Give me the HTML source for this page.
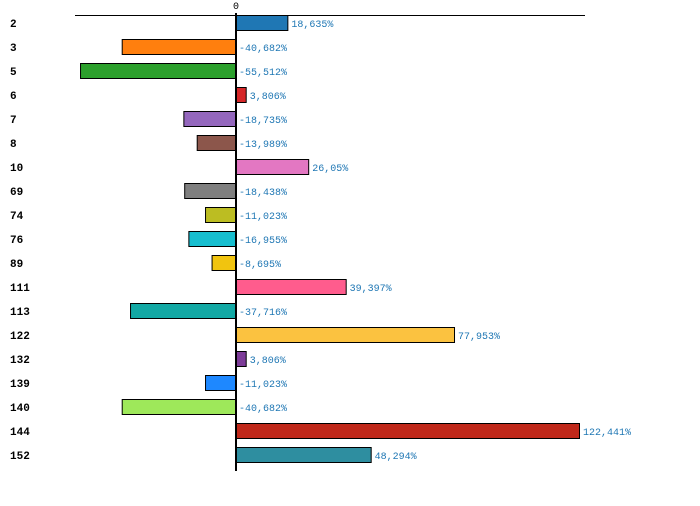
<!DOCTYPE html>
<html><head><meta charset="utf-8"><style>
body{margin:0;background:#fff;}
svg text{font-family:"Liberation Mono","DejaVu Sans Mono",monospace;}
</style></head><body>
<svg id="chart" width="700" height="501" xmlns="http://www.w3.org/2000/svg"></svg>
<script>
const categories=["2","3","5","6","7","8","10","69","74","76","89","111","113","122","132","139","140","144","152"];
const values=[18.635,-40.682,-55.512,3.806,-18.735,-13.989,26.05,-18.438,-11.023,-16.955,-8.695,39.397,-37.716,77.953,3.806,-11.023,-40.682,122.441,48.294];
const labels=["18,635%","-40,682%","-55,512%","3,806%","-18,735%","-13,989%","26,05%","-18,438%","-11,023%","-16,955%","-8,695%","39,397%","-37,716%","77,953%","3,806%","-11,023%","-40,682%","122,441%","48,294%"];
const colors=["#1f77b4","#ff7f0e","#2ca02c","#d62728","#9467bd","#8c564b","#e377c2","#7f7f7f","#bcbd22","#17becf","#f1c40f","#ff5c8d","#12a8a4","#fbc240","#7d3c98","#1e88ff","#9ee85a","#c0281a","#2e8ea0"];
const NS="http://www.w3.org/2000/svg";
const svg=document.getElementById('chart');
const x0=236,scale=(580-236)/122.441;
function xs(v){return x0+v*scale;}
function ys(i){return 15+24*i;}
function mk(t,a){const e=document.createElementNS(NS,t);for(const k in a)e.setAttribute(k,a[k]);svg.appendChild(e);return e;}
let ax=mk('line',{x1:75,x2:585,y1:15.5,y2:15.5,stroke:'#000','stroke-width':1});


let zt=mk('text',{x:236,y:9,'font-size':10,'text-anchor':'middle',fill:'#000'});zt.textContent='0';


categories.forEach((c,i)=>{
  const v=values[i],y=ys(i);
  const a=Math.min(xs(0),xs(v)),w=Math.abs(xs(v)-xs(0));
  const r=mk('rect',{x:a+0.5,y:y+0.5,width:Math.max(w-1,0),height:15,fill:colors[i],stroke:'#000','stroke-width':1});
  
  
  const t=mk('text',{x:10,y:y+12,'font-size':11,'font-weight':'bold',fill:'#000'});t.textContent=c;
  
  
  const lx=v>0?xs(v)+3:x0+3;
  const vl=mk('text',{x:lx,y:y+12,'font-size':10,fill:'#1f77b4'});vl.textContent=labels[i];
  
  
});
let zl=mk('line',{x1:236,x2:236,y1:13,y2:471,stroke:'#000','stroke-width':2});


</script>
</body></html>
